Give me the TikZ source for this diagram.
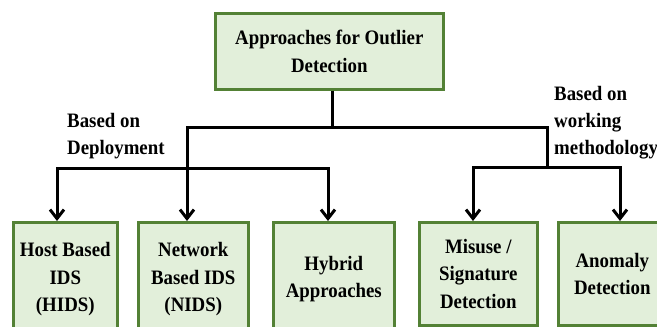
\documentclass[tikz,border=0pt]{standalone}
\usepackage{fontspec}
\setmainfont{Liberation Serif}[FakeStretch=0.92]
\usetikzlibrary{arrows.meta}
\definecolor{boxfill}{HTML}{E2EFDA}
\definecolor{boxline}{HTML}{538135}
\begin{document}
\begin{tikzpicture}[x=1pt,y=-1pt,
  box/.style={draw=boxline, fill=boxfill, line width=2.6pt, anchor=north west,
    align=center, inner sep=0pt, text=black,
    font=\bfseries\fontsize{20.5}{27.5}\selectfont},
  lbl/.style={anchor=north west, align=left, inner sep=0pt, text=black,
    font=\bfseries\fontsize{20.5}{27}\selectfont},
  conn/.style={line width=3pt, draw=black},
  arr/.style={conn, -{Straight Barb[length=9pt,width=14pt]}}]
\useasboundingbox (0,0) rectangle (657,327);
\clip (0,0) rectangle (657,327);
% boxes
\node[box, minimum width=228pt, minimum height=76pt] (top) at (214,12) {Approaches for Outlier\\Detection};
\node[box, minimum width=104pt, minimum height=114pt] (b1) at (12,221) {Host Based\\IDS\\(HIDS)};
\node[box, minimum width=110pt, minimum height=114pt] (b2) at (137,221) {Network\\Based IDS\\(NIDS)};
\node[box, minimum width=121pt, minimum height=114pt] (b3) at (272,221) {Hybrid\\Approaches};
\node[box, minimum width=118pt, minimum height=103pt] (b4) at (418,221) {Misuse /\\Signature\\Detection};
\node[box, minimum width=108pt, minimum height=103pt] (b5) at (557,221) {Anomaly\\Detection};
% labels
\node[lbl] (l1) at (67,113) {Based on\\Deployment};
\node[lbl] (l2) at (554,86) {Based on\\working\\methodology};
% junctions
\coordinate (j0) at (332,127);
\coordinate (jl) at (187,127);
\coordinate (jr) at (547,127);
\coordinate (kl) at (187,168);
\coordinate (kr) at (547,167);
\coordinate (al1) at (57,168);
\coordinate (al3) at (328,168);
\coordinate (ar1) at (473,167);
\coordinate (ar2) at (620,167);
% connectors
\draw[conn] (top.south -| j0) -- (j0);
\draw[conn] (kl) -- (jl) -- (jr) -- (kr);
\draw[arr] (kl) -- (al1) -- (al1 |- b1.north);
\draw[arr] (kl) -- (kl |- b2.north);
\draw[arr] (kl) -- (al3) -- (al3 |- b3.north);
\draw[arr] (kr) -- (ar1) -- (ar1 |- b4.north);
\draw[arr] (kr) -- (ar2) -- (ar2 |- b5.north);
\end{tikzpicture}
\end{document}
